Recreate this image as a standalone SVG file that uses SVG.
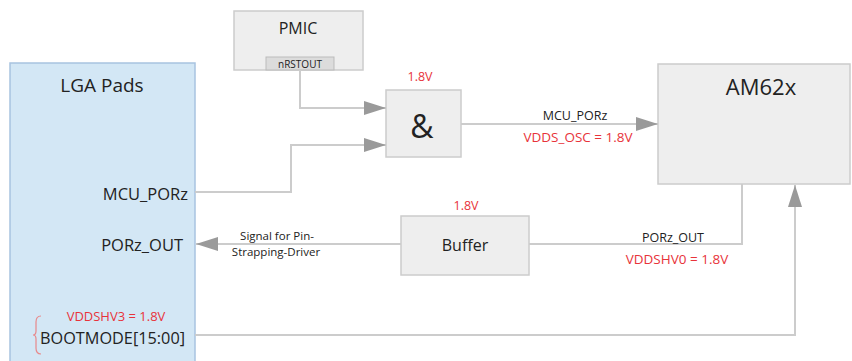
<svg xmlns="http://www.w3.org/2000/svg" width="852" height="361" viewBox="0 0 852 361">
<style>
.box{fill:#eeeeee;stroke:#cccccc;stroke-width:1.5}
.ln{fill:none;stroke:#cccccc;stroke-width:2}
.t{font-family:"Open Sans","Liberation Sans",sans-serif;fill:#222222}
.r{font-family:"Open Sans","Liberation Sans",sans-serif;fill:#e8333a}
</style>
<defs>
<marker id="ah" markerUnits="userSpaceOnUse" markerWidth="22" markerHeight="16" refX="22" refY="8" orient="auto">
<path d="M0,1 L22,8 L0,15 Z" fill="#9a9a9a"/>
</marker>
</defs>
<rect width="852" height="361" fill="#ffffff"/>
<g id="lga">
<rect x="10" y="63" width="185" height="310" fill="#d3e7f5" stroke="#a8c3e0" stroke-width="1.5"/>
<text class="t" x="102" y="92" font-size="19" text-anchor="middle">LGA Pads</text>
<text class="t" x="188" y="200" font-size="16.5" text-anchor="end">MCU_PORz</text>
<text class="t" x="183" y="251" font-size="16.5" text-anchor="end">PORz_OUT</text>
<text class="r" x="116" y="321" font-size="13" text-anchor="middle">VDDSHV3 = 1.8V</text>
<text class="t" x="40" y="344" font-size="16" textLength="145" lengthAdjust="spacingAndGlyphs">BOOTMODE[15:00]</text>
<path d="M41,316 Q36,316 36,322 L36,331 Q36,335 33,335 Q36,335 36,339 L36,348 Q36,354 41,354" fill="none" stroke="#e8888a" stroke-width="1.2"/>
</g>
<g id="pmic">
<rect class="box" x="234" y="11" width="129" height="59"/>
<text class="t" x="298" y="34" font-size="16" text-anchor="middle">PMIC</text>
<rect x="266" y="57" width="68" height="13" fill="#dcdcdc" stroke="#bbbbbb" stroke-width="1"/>
<text class="t" x="300" y="67.5" font-size="10" text-anchor="middle">nRSTOUT</text>
</g>
<g id="and">
<rect class="box" x="386" y="90" width="75" height="67"/>
<text class="r" x="420" y="81" font-size="12.5" text-anchor="middle">1.8V</text>
<text class="t" x="422" y="138" font-size="32" text-anchor="middle">&amp;</text>
</g>
<g id="am62x">
<rect class="box" x="658" y="64" width="192" height="120"/>
<text class="t" x="761" y="95" font-size="22" text-anchor="middle">AM62x</text>
</g>
<g id="buffer">
<rect class="box" x="401" y="216" width="128" height="59"/>
<text class="r" x="466" y="210" font-size="12.5" text-anchor="middle">1.8V</text>
<text class="t" x="465" y="251" font-size="16" text-anchor="middle">Buffer</text>
</g>
<g id="connectors">
<path class="ln" d="M300,70 L300,108 L386,108" marker-end="url(#ah)"/>
<path class="ln" d="M195,192 L291,192 L291,145 L386,145" marker-end="url(#ah)"/>
<path class="ln" d="M461,124 L658,124" marker-end="url(#ah)"/>
<path class="ln" d="M401,244 L196,244" marker-end="url(#ah)"/>
<path class="ln" d="M742,184 L742,244 L529,244"/>
<path class="ln" d="M195,335 L795,335 L795,185" marker-end="url(#ah)"/>
<text class="t" x="575" y="120" font-size="12.5" text-anchor="middle">MCU_PORz</text>
<text class="r" x="578" y="142" font-size="13.5" text-anchor="middle">VDDS_OSC = 1.8V</text>
<text class="t" x="277" y="240" font-size="11.5" text-anchor="middle">Signal for Pin-</text>
<text class="t" x="276" y="256" font-size="11.5" text-anchor="middle">Strapping-Driver</text>
<text class="t" x="673" y="242" font-size="12.5" text-anchor="middle">PORz_OUT</text>
<text class="r" x="677" y="264" font-size="13.5" text-anchor="middle">VDDSHV0 = 1.8V</text>
</g>
</svg>
